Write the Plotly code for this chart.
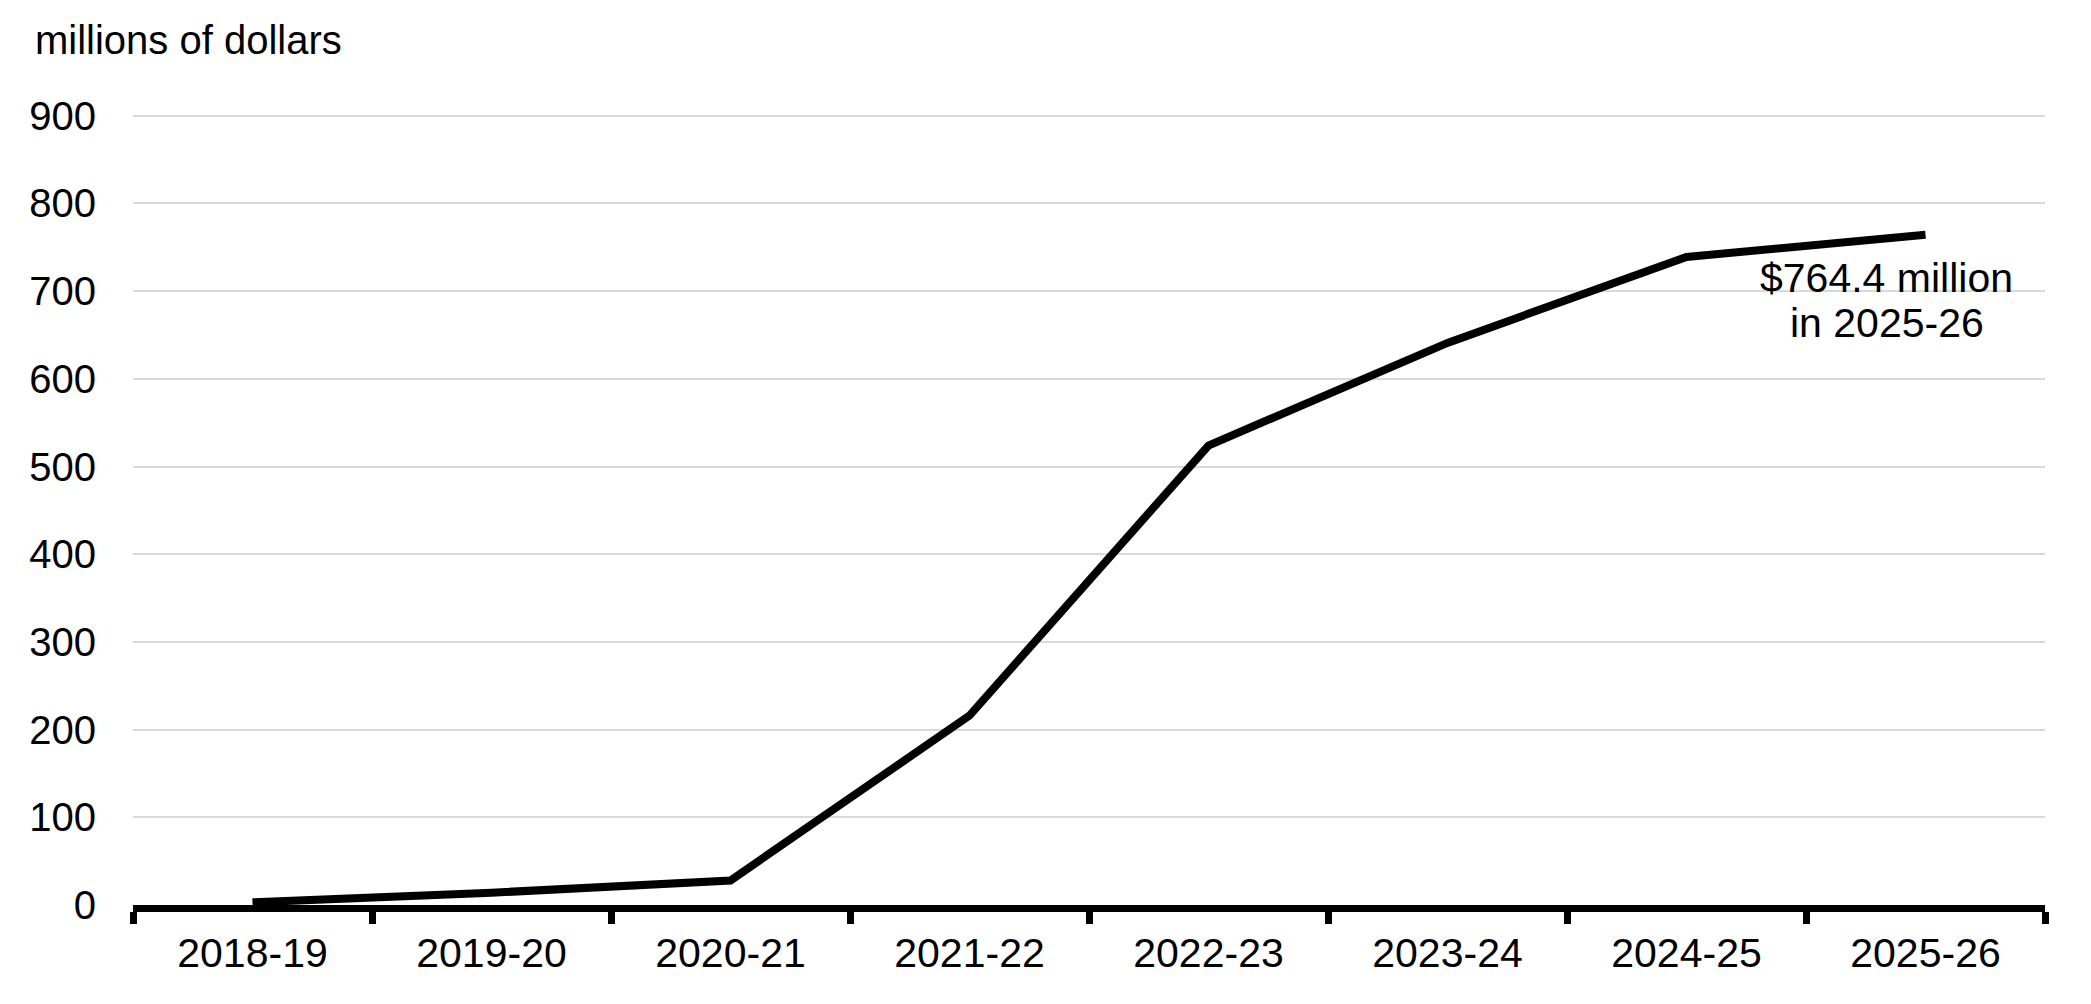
import plotly.graph_objects as go

years = ["2018-19", "2019-20", "2020-21", "2021-22", "2022-23", "2023-24", "2024-25", "2025-26"]
values = [3, 14, 28, 216, 524, 641, 739, 764.4]
y_ticks = [0, 100, 200, 300, 400, 500, 600, 700, 800, 900]
annot_lines = ["$764.4 million", "in 2025-26"]

FONT = "Liberation Sans, Arial, sans-serif"

fig = go.Figure()
fig.add_trace(go.Scatter(
    x=years, y=values, mode="lines",
    line=dict(color="black", width=8),
    hoverinfo="skip", showlegend=False,
))

fig.update_layout(
    width=2091, height=1004,
    margin=dict(l=125, r=54, t=106, b=107),
    paper_bgcolor="white", plot_bgcolor="white",
    font=dict(family=FONT, size=40, color="black"),
    showlegend=False,
)

fig.update_xaxes(
    type="category",
    tickson="boundaries",
    ticks="outside", ticklen=12, tickwidth=7, tickcolor="black",
    showline=True, linecolor="black", linewidth=7,
    showgrid=False, zeroline=False,
    tickfont=dict(family=FONT, size=41, color="black"),
    ticklabelstandoff=6,
    range=[-0.5, len(years) - 0.5],
    automargin=False,
)
fig.update_yaxes(
    range=[0, 902],
    tickvals=y_ticks,
    showgrid=True, gridcolor="#d9d9d9", gridwidth=2,
    zeroline=False, showline=False, ticks="",
    tickfont=dict(family=FONT, size=40, color="black"),
    ticklabelstandoff=36,
    automargin=False,
)

fig.add_annotation(
    text="millions of dollars", xref="paper", yref="paper",
    x=0, y=1, xanchor="left", yanchor="middle",
    xshift=-100, yshift=74, showarrow=False,
    font=dict(family=FONT, size=40, color="black"),
)

for i, line in enumerate(annot_lines):
    fig.add_annotation(
        text=line, x=years[-1], y=values[-1],
        xanchor="center", yanchor="middle",
        xshift=-39, yshift=-43 - 45 * i, showarrow=False,
        font=dict(family=FONT, size=41, color="black"),
    )

fig.write_html("out.html")
